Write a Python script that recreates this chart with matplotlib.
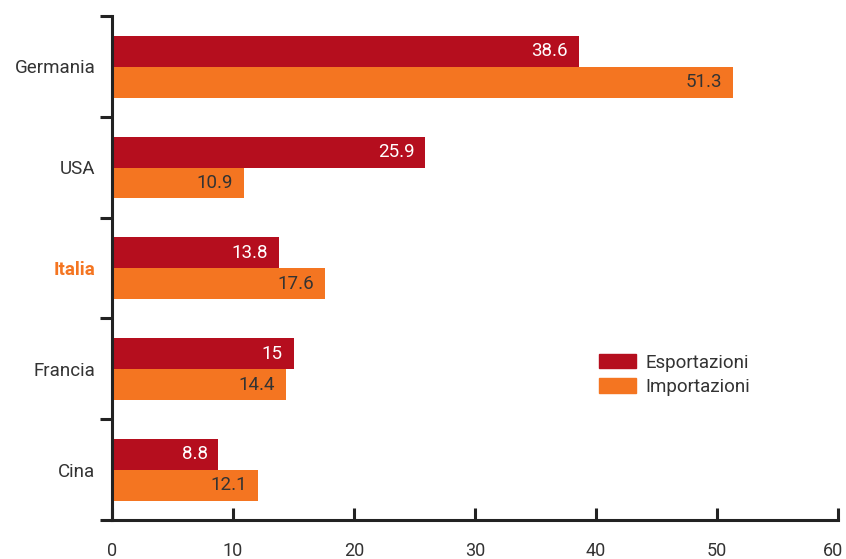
import numpy as np
import matplotlib.pyplot as plt
import matplotlib.transforms as mtransforms
from matplotlib.patches import Patch

plt.rcParams['font.family'] = ['Roboto', 'DejaVu Sans']

# Data
paesi = ["Germania", "USA", "Italia", "Francia", "Cina"]
esportazioni = [38.6, 25.9, 13.8, 15, 8.8]
importazioni = [51.3, 10.9, 17.6, 14.4, 12.1]
label_esp = ["38.6", "25.9", "13.8", "15", "8.8"]
label_imp = ["51.3", "10.9", "17.6", "14.4", "12.1"]

col_esp = "#B50E1E"
col_imp = "#F47521"
col_txt = "#333333"
fs = 13.5

fig = plt.figure(figsize=(8.46, 5.59), dpi=100)
ax = fig.add_axes([112 / 846, 39 / 559, 726 / 846, 504 / 559])

y = np.arange(len(paesi))
h = 0.307
ax.barh(y - 0.15, esportazioni, height=h, color=col_esp, linewidth=0)
ax.barh(y + 0.157, importazioni, height=h, color=col_imp, linewidth=0)

for i in range(len(paesi)):
    ax.text(esportazioni[i] - 0.9, y[i] - 0.15, label_esp[i], ha='right', va='center',
            color='white', fontsize=fs)
    ax.text(importazioni[i] - 0.9, y[i] + 0.157, label_imp[i], ha='right', va='center',
            color=col_txt, fontsize=fs)

ax.set_xlim(0, 60)
ax.set_ylim(len(paesi) - 0.5, -0.5)

# spines
for s in ['top', 'right']:
    ax.spines[s].set_visible(False)
for s in ['left', 'bottom']:
    ax.spines[s].set_linewidth(2.2)
    ax.spines[s].set_color('#222222')

# x ticks pointing inward
ax.set_xticks(range(0, 61, 10))
ax.tick_params(axis='x', direction='in', length=9, width=2.2, color='#222222',
               labelsize=13, labelcolor=col_txt, pad=16)
# nudge last label so it stays inside the figure
last = ax.get_xticklabels()[-1]
last.set_transform(last.get_transform() + mtransforms.ScaledTranslation(-5 / 100, 0, fig.dpi_scale_trans))

# y: labels at centers, tick marks at boundaries
ax.set_yticks(y)
ax.set_yticklabels(paesi)
ax.set_yticks(np.arange(-0.5, len(paesi), 1.0), minor=True)
ax.tick_params(axis='y', which='major', length=0, labelsize=fs, labelcolor=col_txt, pad=12)
ax.tick_params(axis='y', which='minor', direction='out', length=9, width=2.2, color='#222222')
for lab in ax.get_yticklabels():
    if lab.get_text() == "Italia":
        lab.set_color(col_imp)
        lab.set_fontweight('bold')

handles = [Patch(color=col_esp, label="Esportazioni"), Patch(color=col_imp, label="Importazioni")]
leg = ax.legend(handles=handles, loc='upper left', bbox_to_anchor=(0.66, 0.345), frameon=False,
                fontsize=fs, handlelength=2.0, handleheight=0.8, labelspacing=0.35,
                handletextpad=0.5, borderaxespad=0)
for t in leg.get_texts():
    t.set_color(col_txt)

fig.savefig("out.png", dpi=100)
